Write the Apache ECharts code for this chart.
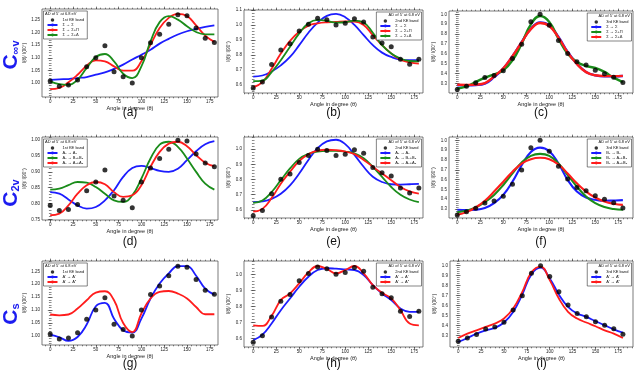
<!DOCTYPE html>
<html>
<head>
<meta charset="utf-8">
<script src="https://cdn.jsdelivr.net/npm/echarts@6/dist/echarts.min.js"></script>
<style>
  html, body { margin: 0; padding: 0; background: #fff; }
  #chart { width: 641px; height: 374px; }
</style>
</head>
<body>
<div id="chart"></div>
<script>
// angles where the measured points and the fitted curves are read (degrees)
const angles = [0, 10, 20, 30, 40, 50, 60, 70, 80, 90, 100, 110, 120, 130, 140, 150, 160, 170, 180];
const xMajor = [0, 25, 50, 75, 100, 125, 150, 175];

// measured points
const band1 = [1.008, 0.988, 0.992, 1.012, 1.065, 1.100, 1.148, 1.045, 1.025, 1.000, 1.100, 1.160, 1.193, 1.233, 1.270, 1.266, 1.218, 1.177, 1.161];
const band1Norm = [0.794, 0.778, 0.781, 0.797, 0.840, 0.868, 0.906, 0.824, 0.810, 0.787, 0.868, 0.912, 0.942, 0.971, 1.000, 0.997, 0.956, 0.928, 0.916];
const band2 = [0.578, 0.618, 0.735, 0.833, 0.875, 0.960, 1.005, 1.045, 1.035, 1.000, 1.012, 1.042, 1.020, 0.920, 0.880, 0.855, 0.770, 0.737, 0.770];
const band2Norm = [0.562, 0.596, 0.707, 0.802, 0.836, 0.913, 0.958, 1.000, 0.991, 0.958, 0.967, 0.996, 0.973, 0.880, 0.844, 0.824, 0.744, 0.711, 0.744];
const band3 = [0.240, 0.272, 0.308, 0.362, 0.382, 0.430, 0.553, 0.698, 0.925, 1.000, 0.890, 0.737, 0.605, 0.520, 0.487, 0.435, 0.400, 0.365, 0.310];

// fitted curves, read every 10 degrees
const aBlue  = [1.013, 1.015, 1.016, 1.020, 1.024, 1.033, 1.042, 1.056, 1.073, 1.093, 1.112, 1.132, 1.156, 1.175, 1.192, 1.205, 1.214, 1.222, 1.228];
const aRed   = [0.976, 0.981, 1.003, 1.033, 1.069, 1.090, 1.086, 1.066, 1.049, 1.049, 1.086, 1.152, 1.218, 1.258, 1.274, 1.265, 1.228, 1.188, 1.163];
const aGreen = [1.007, 0.996, 0.993, 1.013, 1.060, 1.103, 1.115, 1.086, 1.037, 1.020, 1.066, 1.165, 1.241, 1.265, 1.251, 1.225, 1.202, 1.193, 1.193];

const bBlue  = [0.655, 0.662, 0.689, 0.730, 0.786, 0.865, 0.948, 1.016, 1.061, 1.074, 1.052, 1.000, 0.932, 0.865, 0.815, 0.786, 0.768, 0.764, 0.764];
const bRed   = [0.583, 0.617, 0.707, 0.809, 0.894, 0.955, 0.995, 1.011, 1.018, 1.020, 1.023, 1.023, 1.000, 0.932, 0.865, 0.809, 0.768, 0.750, 0.741];
const bGreen = [0.624, 0.628, 0.685, 0.764, 0.854, 0.944, 1.011, 1.034, 1.027, 1.016, 1.018, 1.029, 1.016, 0.948, 0.865, 0.809, 0.775, 0.759, 0.757];

const cBlue  = [0.283, 0.283, 0.286, 0.300, 0.367, 0.451, 0.576, 0.720, 0.855, 0.919, 0.889, 0.771, 0.620, 0.502, 0.418, 0.384, 0.374, 0.374, 0.377];
const cGreen = [0.249, 0.273, 0.316, 0.360, 0.394, 0.434, 0.535, 0.704, 0.899, 0.983, 0.923, 0.754, 0.603, 0.519, 0.478, 0.458, 0.418, 0.360, 0.316];
const cRed   = [0.288, 0.287, 0.290, 0.305, 0.372, 0.455, 0.578, 0.718, 0.850, 0.912, 0.882, 0.765, 0.615, 0.498, 0.416, 0.384, 0.376, 0.376, 0.378];

const dBlue  = [0.836, 0.831, 0.813, 0.794, 0.784, 0.789, 0.810, 0.842, 0.884, 0.912, 0.919, 0.912, 0.903, 0.900, 0.910, 0.937, 0.965, 0.987, 0.997];
const dGreen = [0.844, 0.847, 0.858, 0.868, 0.866, 0.852, 0.831, 0.810, 0.805, 0.826, 0.879, 0.942, 0.986, 0.995, 0.979, 0.942, 0.900, 0.863, 0.844];
const dRed   = [0.763, 0.768, 0.794, 0.831, 0.858, 0.868, 0.861, 0.836, 0.821, 0.826, 0.858, 0.916, 0.963, 0.989, 0.995, 0.981, 0.953, 0.929, 0.918];

const eBlue  = [0.651, 0.656, 0.673, 0.707, 0.762, 0.840, 0.929, 1.007, 1.051, 1.062, 1.033, 0.962, 0.884, 0.818, 0.784, 0.769, 0.767, 0.769, 0.771];
const eGreen = [0.647, 0.662, 0.718, 0.796, 0.873, 0.936, 0.969, 0.984, 0.989, 0.989, 0.984, 0.973, 0.940, 0.884, 0.818, 0.751, 0.700, 0.669, 0.651];
const eRed   = [0.589, 0.607, 0.678, 0.773, 0.851, 0.922, 0.967, 0.991, 0.996, 0.993, 0.984, 0.967, 0.929, 0.884, 0.840, 0.796, 0.751, 0.722, 0.707];

const fBlue  = [0.293, 0.290, 0.293, 0.310, 0.360, 0.444, 0.579, 0.747, 0.882, 0.926, 0.889, 0.764, 0.596, 0.478, 0.418, 0.394, 0.384, 0.387, 0.391];
const fGreen = [0.269, 0.283, 0.316, 0.370, 0.444, 0.545, 0.663, 0.774, 0.842, 0.862, 0.842, 0.764, 0.646, 0.529, 0.428, 0.360, 0.320, 0.300, 0.293];
const fRed   = [0.242, 0.269, 0.316, 0.384, 0.478, 0.579, 0.680, 0.764, 0.808, 0.822, 0.808, 0.754, 0.663, 0.562, 0.478, 0.418, 0.377, 0.354, 0.343];

const gBlue  = [1.005, 0.995, 0.981, 0.996, 1.044, 1.115, 1.128, 1.067, 1.022, 1.013, 1.067, 1.145, 1.203, 1.242, 1.270, 1.270, 1.233, 1.183, 1.160];
const gRed   = [1.083, 1.080, 1.083, 1.106, 1.138, 1.168, 1.173, 1.138, 1.050, 1.015, 1.087, 1.145, 1.171, 1.174, 1.164, 1.145, 1.112, 1.084, 1.084];

const hBlue  = [0.590, 0.625, 0.694, 0.777, 0.850, 0.923, 0.985, 1.027, 1.038, 1.035, 1.031, 1.027, 0.996, 0.933, 0.881, 0.840, 0.788, 0.767, 0.767];
const hRed   = [0.683, 0.679, 0.742, 0.840, 0.881, 0.944, 1.012, 1.052, 1.033, 1.006, 1.027, 1.052, 1.006, 0.933, 0.885, 0.850, 0.777, 0.694, 0.683];

const iBlue  = [0.232, 0.273, 0.316, 0.350, 0.374, 0.428, 0.535, 0.710, 0.912, 0.980, 0.872, 0.710, 0.586, 0.519, 0.485, 0.441, 0.401, 0.360, 0.327];
const iRed   = [0.273, 0.316, 0.350, 0.384, 0.418, 0.468, 0.569, 0.737, 0.933, 0.990, 0.855, 0.670, 0.535, 0.468, 0.428, 0.391, 0.350, 0.316, 0.273];

// y tick labels per panel
const yTicksA = [1.00, 1.05, 1.10, 1.15, 1.20, 1.25];
const yTicksB = [0.6, 0.7, 0.8, 0.9, 1.0, 1.1];
const yTicksC = [0.3, 0.4, 0.5, 0.6, 0.7, 0.8, 0.9, 1.0];
const yTicksD = [0.75, 0.80, 0.85, 0.90, 0.95, 1.00];
const yTicksE = [0.6, 0.7, 0.8, 0.9, 1.0];

const BLUE = '#1c1cff', RED = '#ff1c1c', GREEN = '#1a8c1a';
const FONT = 'Liberation Sans';
const header = 'AD of 5\u207b at 6.8 eV';

const panels = [
  { tag: '(a)', band: '1st KE band', pts: band1, box: [42, 9, 176, 88], xr: [-9, 184], yr: [0.945, 1.293], yt: yTicksA, dec: 2, leg: 'left', cap: 113, lw: 1.8,
    curves: [['Σ → Σ', aBlue, BLUE], ['Σ → Σ+Π', aRed, RED], ['Σ → Σ+Δ', aGreen, GREEN]] },
  { tag: '(b)', band: '2nd KE band', pts: band2, box: [244, 10, 179, 83], xr: [-10, 184.5], yr: [0.545, 1.1], yt: yTicksB, dec: 1, leg: 'right', cap: 113, lw: 1.8,
    curves: [['Σ → Σ', bBlue, BLUE], ['Σ → Σ+Π', bRed, RED], ['Σ → Σ+Δ', bGreen, GREEN]] },
  { tag: '(c)', band: '3rd KE band', pts: band3, box: [449, 11, 184, 82], xr: [-9, 191], yr: [0.205, 1.034], yt: yTicksC, dec: 1, leg: 'right', cap: 113, lw: 2.4,
    curves: [['Σ → Σ', cBlue, BLUE], ['Σ → Σ+Π', cGreen, GREEN], ['Σ → Σ+Δ', cRed, RED]] },
  { tag: '(d)', band: '1st KE band', pts: band1Norm, box: [42, 137, 176, 83], xr: [-9, 184], yr: [0.748, 1.01], yt: yTicksD, dec: 2, leg: 'left', cap: 242, lw: 1.8,
    curves: [['A₁ → A₁', dBlue, BLUE], ['A₁ → B₁+B₂', dGreen, GREEN], ['A₁ → A₁+A₂', dRed, RED]] },
  { tag: '(e)', band: '2nd KE band', pts: band2Norm, box: [244, 137, 179, 81], xr: [-10, 184.5], yr: [0.547, 1.08], yt: yTicksE, dec: 1, leg: 'right', cap: 242, lw: 1.8,
    curves: [['A₁ → A₁', eBlue, BLUE], ['A₁ → B₁+B₂', eGreen, GREEN], ['A₁ → A₁+A₂', eRed, RED]] },
  { tag: '(f)', band: '3rd KE band', pts: band3, box: [449, 137, 184, 81], xr: [-9, 191], yr: [0.209, 1.034], yt: yTicksC, dec: 1, leg: 'right', cap: 242, lw: 2.1,
    curves: [['B₁ → B₁', fBlue, BLUE], ['B₁ → A₁+B₂', fGreen, GREEN], ['B₁ → A₂+B₂', fRed, RED]] },
  { tag: '(g)', band: '1st KE band', pts: band1, box: [42, 261, 176, 84], xr: [-9, 184], yr: [0.965, 1.29], yt: yTicksA, dec: 2, leg: 'left', cap: 364, lw: 1.8,
    curves: [['A′ → A′', gBlue, BLUE], ['A′ → A″', gRed, RED]] },
  { tag: '(h)', band: '2nd KE band', pts: band2, box: [244, 261, 179, 86], xr: [-10, 184.5], yr: [0.548, 1.083], yt: yTicksE, dec: 1, leg: 'right', cap: 364, lw: 1.8,
    curves: [['A′ → A′', hBlue, BLUE], ['A′ → A″', hRed, RED]] },
  { tag: '(i)', band: '3rd KE band', pts: band3, box: [450, 261, 183, 86], xr: [-9, 191], yr: [0.182, 1.047], yt: yTicksC, dec: 1, leg: 'right', cap: 364, lw: 1.8,
    curves: [['A′ → A′', iBlue, BLUE], ['A′ → A″', iRed, RED]] }
];

// tick positions between the axis ends
function ticksIn(range, step) {
  const out = [];
  let v = Math.ceil(range[0] / step - 1e-9);
  while (v * step <= range[1] + 1e-9) { out.push(+(v * step).toFixed(4)); v++; }
  return out;
}

function axis(gi, pos, range, ticks, len, labels, dec, extra) {
  return Object.assign({
    type: 'value', gridIndex: gi, position: pos, min: range[0], max: range[1],
    axisLine: { show: false }, splitLine: { show: false },
    axisTick: { show: true, customValues: ticks, length: len, lineStyle: { color: '#333', width: 0.6 } },
    axisLabel: labels
      ? { show: true, customValues: labels, fontSize: 4.5, margin: 2, color: '#222', fontFamily: FONT, formatter: v => v.toFixed(dec) }
      : { show: false }
  }, extra || {});
}

const grids = [], xAxes = [], yAxes = [], series = [], legends = [], titles = [], graphics = [];

panels.forEach((p, k) => {
  const [L, T, W, H] = p.box;
  grids.push({ left: L, top: T, width: W, height: H, show: true, borderColor: '#444', borderWidth: 0.7 });

  const xMinor = ticksIn(p.xr, 5);
  const yMinor = ticksIn(p.yr, (p.yt[1] - p.yt[0]) / 5);
  xAxes.push(axis(k, 'bottom', p.xr, xMajor, 2.4, xMajor, 0, {
    name: 'Angle in degree (θ)', nameLocation: 'middle', nameGap: 8,
    nameTextStyle: { fontSize: 5.5, fontFamily: FONT, color: '#222' }
  }));
  xAxes.push(axis(k, 'bottom', p.xr, xMinor, 1.3));
  xAxes.push(axis(k, 'top', p.xr, xMajor, 2.4));
  xAxes.push(axis(k, 'top', p.xr, xMinor, 1.3));
  yAxes.push(axis(k, 'left', p.yr, p.yt, 2.4, p.yt, p.dec, {
    name: 'I(θ)/ I(90°)', nameLocation: 'middle', nameGap: 13,
    nameTextStyle: { fontSize: 4.5, fontFamily: FONT, color: '#222' }
  }));
  yAxes.push(axis(k, 'left', p.yr, yMinor, 1.3));
  yAxes.push(axis(k, 'right', p.yr, p.yt, 2.4));
  yAxes.push(axis(k, 'right', p.yr, yMinor, 1.3));

  // invisible suffix keeps legend colours apart between panels
  const sfx = '\u200b'.repeat(k);
  const idx = 4 * k;
  series.push({
    type: 'scatter', name: p.band + sfx, xAxisIndex: idx, yAxisIndex: idx,
    data: angles.map((a, i) => [a, p.pts[i]]),
    symbolSize: 5, itemStyle: { color: '#000' }, z: 5
  });
  p.curves.forEach(([nm, vals, col]) => {
    series.push({
      type: 'line', name: nm + sfx, xAxisIndex: idx, yAxisIndex: idx,
      data: angles.map((a, i) => [a, vals[i]]),
      smooth: 0.45, symbol: 'none', lineStyle: { color: col, width: p.lw }, itemStyle: { color: col }, z: 3
    });
  });

  const side = p.leg === 'left' ? { left: L + 1.5 } : { right: 641 - (L + W) + 1.5 };
  legends.push(Object.assign({
    orient: 'vertical', top: T + 2, padding: [7, 3, 2, 3], itemGap: 1,
    itemWidth: 10, itemHeight: 3.5, align: 'left', selectedMode: false,
    borderColor: '#333', borderWidth: 0.6, backgroundColor: '#fff', z: 10,
    textStyle: { fontSize: 4, fontFamily: FONT, color: '#111' },
    formatter: n => n.replace(/\u200b/g, ''),
    data: [{ name: p.band + sfx, icon: 'circle' }].concat(p.curves.map(c => ({ name: c[0] + sfx })))
  }, side));
  const hside = p.leg === 'left' ? { left: L + 3 } : { right: 641 - (L + W) + 3 };
  titles.push(Object.assign({
    text: header, top: T + 2.5, padding: 0, z: 11,
    textStyle: { fontSize: 4, fontWeight: 'normal', fontFamily: FONT, color: '#111' }
  }, hside));

  graphics.push({
    type: 'text', x: L + W / 2, y: p.cap,
    style: { text: p.tag, fontSize: 12, fontFamily: FONT, fill: '#111', align: 'center', verticalAlign: 'middle' }
  });
});

// row labels, rotated
const rowLabels = [['∞v', 55], ['2v', 193], ['s', 314]];
rowLabels.forEach(([sub, y]) => {
  graphics.push({
    type: 'text', x: 11, y: y, rotation: Math.PI / 2,
    style: {
      text: '{c|C}{s|' + sub + '}', align: 'center', verticalAlign: 'middle',
      rich: {
        c: { fontSize: 21, fontWeight: 'bold', fontFamily: FONT, fill: '#1c1cf0' },
        s: { fontSize: 11, fontWeight: 'bold', fontFamily: FONT, fill: '#1c1cf0', padding: [9, 0, 0, 0] }
      }
    }
  });
});

const chart = echarts.init(document.getElementById('chart'));
chart.setOption({
  animation: false,
  backgroundColor: '#fff',
  title: titles,
  legend: legends,
  grid: grids,
  xAxis: xAxes,
  yAxis: yAxes,
  series: series,
  graphic: graphics
});
</script>
</body>
</html>
